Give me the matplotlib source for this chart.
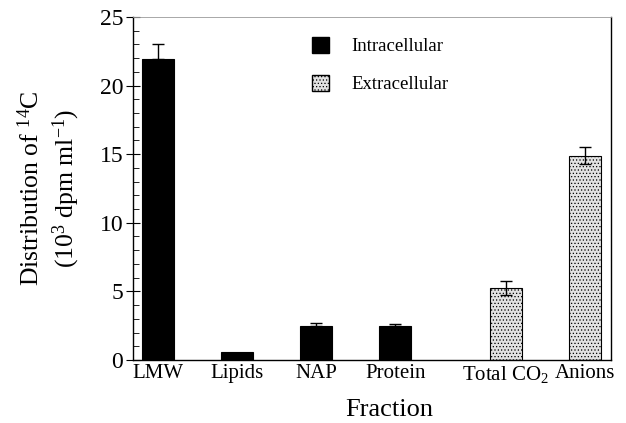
import matplotlib
matplotlib.use("Agg")
import matplotlib.pyplot as plt
from matplotlib.patches import Patch

plt.rcParams['font.family'] = ['Liberation Serif', 'DejaVu Serif']
plt.rcParams['mathtext.fontset'] = 'custom'
plt.rcParams['mathtext.rm'] = 'Liberation Serif'
plt.rcParams['mathtext.it'] = 'Liberation Serif:italic'
plt.rcParams['hatch.color'] = '#9a9a9a'
plt.rcParams['hatch.linewidth'] = 0.5

categories = ['LMW', 'Lipids', 'NAP', 'Protein', 'Total CO$_2$', 'Anions']
positions = [0, 1, 2, 3, 4.4, 5.4]
values = [21.9, 0.55, 2.5, 2.5, 5.25, 14.9]
errors = [1.15, 0.0, 0.17, 0.15, 0.5, 0.6]
groups = ['Intracellular', 'Intracellular', 'Intracellular', 'Intracellular',
          'Extracellular', 'Extracellular']

fig = plt.figure(figsize=(6.26, 4.23), dpi=100)
ax = fig.add_axes([0.2125, 0.149, 0.7635, 0.811])

width = 0.41
for p, v, e, g in zip(positions, values, errors, groups):
    if g == 'Intracellular':
        ax.bar(p, v, width, color='black', edgecolor='black', linewidth=0.8, zorder=2)
        if e > 0:
            ax.errorbar(p, v, yerr=[[0], [e]], fmt='none', ecolor='black',
                        elinewidth=1, capsize=4, capthick=1, zorder=3)
    else:
        ax.bar(p, v, width, color='#e2e2e2', edgecolor='black', linewidth=0.8,
               hatch='.....', zorder=2)
        ax.errorbar(p, v, yerr=e, fmt='none', ecolor='black',
                    elinewidth=1, capsize=4, capthick=1, zorder=3)

ax.set_xlim(-0.316, 5.73)
ax.set_ylim(0, 25)
ax.set_yticks([0, 5, 10, 15, 20, 25])
ax.set_yticks(range(0, 26), minor=True)
ax.set_xticks(positions)
ax.set_xticklabels(categories, fontsize=15)
ax.tick_params(axis='x', length=0, pad=3)
ax.tick_params(axis='y', which='major', direction='inout', length=10, width=0.8,
               labelsize=17, pad=2)
ax.tick_params(axis='y', which='minor', direction='in', length=4, width=0.6)
ax.tick_params(axis='y', right=False)

for s in ['left', 'bottom', 'right']:
    ax.spines[s].set_linewidth(1.0)
ax.spines['top'].set_linewidth(0.6)
ax.spines['top'].set_color('#9a9a9a')

ax.set_xlabel('Fraction', fontsize=19)
ax.xaxis.set_label_coords(0.536, -0.115)
ax.set_ylabel('Distribution of $^{14}$C\n(10$^3$ dpm ml$^{-1}$)', fontsize=18.5,
              linespacing=1.3)
ax.yaxis.set_label_coords(-0.106, 0.5)

handles = [Patch(facecolor='black', edgecolor='black'),
           Patch(facecolor='#e2e2e2', edgecolor='black', hatch='.....')]
ax.legend(handles, ['Intracellular', 'Extracellular'], loc='upper left',
          bbox_to_anchor=(0.34, 0.99), frameon=False, fontsize=13.5,
          handlelength=0.9, handleheight=0.9, handletextpad=1.2,
          labelspacing=1.05)

fig.savefig('out.png', dpi=100)
